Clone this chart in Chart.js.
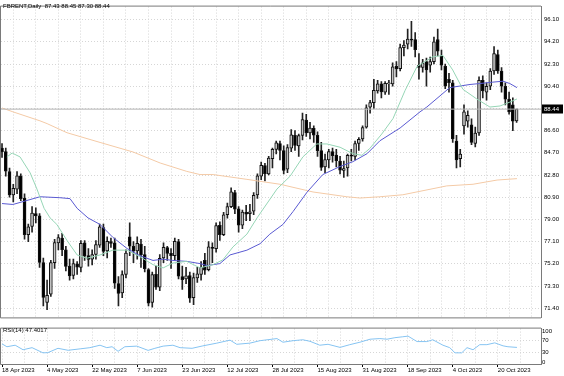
<!DOCTYPE html>
<html><head><meta charset="utf-8">
<script src="https://cdn.jsdelivr.net/npm/chart.js@4.4.0/dist/chart.umd.min.js"></script>
<style>
html,body{margin:0;padding:0;background:#fff;}
#wrap{position:relative;width:564px;height:376px;overflow:hidden;font-family:"Liberation Sans",Arial,sans-serif;}
#main{position:absolute;left:0;top:0;}
#rsi{position:absolute;left:0;top:324px;}
.lbl{position:absolute;font-size:6px;line-height:8px;color:#000;white-space:pre;}
</style></head><body>
<div id="wrap">
<canvas id="main" width="564" height="324"></canvas>
<canvas id="rsi" width="564" height="52"></canvas>
<div class="lbl" id="title" style="left:3px;top:1.6px"></div>
<div class="lbl" id="rsiTitle" style="left:3px;top:326.3px"></div>
</div>
<script>
const symbol = 'FBRENT,Daily';
const opens = [85.10,84.80,83.10,81.10,81.60,82.70,80.80,77.70,78.40,79.50,79.30,75.30,71.90,72.60,75.30,77.00,77.40,76.40,75.00,74.20,75.20,74.90,77.00,75.90,75.60,76.00,76.80,78.30,76.30,77.10,77.00,73.50,72.70,74.30,77.50,76.70,76.30,76.90,76.00,74.70,71.90,74.30,73.20,75.70,76.60,76.10,75.90,77.10,74.10,73.90,74.20,72.30,74.00,74.30,75.50,74.70,76.60,76.50,78.50,77.70,79.40,80.10,81.30,79.90,78.50,79.60,79.50,79.70,81.10,82.70,83.60,82.90,84.20,85.00,85.50,84.90,83.30,85.10,86.20,85.30,86.20,87.50,86.40,86.80,86.20,84.90,83.50,84.10,84.80,84.50,84.00,83.20,83.40,84.50,84.40,85.50,85.90,86.90,88.60,89.00,90.00,90.60,89.90,90.60,90.60,92.10,91.90,93.70,94.00,94.40,94.40,92.20,92.00,92.50,92.20,92.50,94.40,93.00,92.10,91.00,90.70,85.70,84.20,87.00,87.40,87.10,85.50,86.40,90.90,89.90,90.40,91.70,93.10,91.70,90.40,89.30,88.80,87.43];
const highs = [85.50,85.10,83.40,82.00,83.10,82.90,81.20,78.60,80.10,80.00,79.50,75.70,73.80,75.50,77.30,77.70,77.80,76.70,75.60,75.60,75.40,77.20,77.20,76.50,76.40,77.20,78.60,78.60,77.50,77.40,77.40,74.10,74.60,76.40,78.70,77.10,77.50,77.30,76.70,74.80,74.50,75.00,76.00,77.00,76.70,76.50,77.40,77.30,75.00,74.90,74.50,74.40,74.90,75.40,76.10,77.10,77.00,78.70,78.80,79.60,80.40,81.70,81.50,80.10,79.80,80.20,80.30,81.30,82.90,83.90,83.80,84.40,85.10,85.70,85.70,85.30,85.40,86.70,86.60,86.30,88.10,88.00,87.30,87.00,86.50,85.60,84.60,85.00,85.10,85.00,84.40,84.00,84.60,85.00,85.70,86.00,87.00,88.80,89.20,91.00,90.90,90.80,90.80,90.90,92.40,92.50,94.00,94.30,95.30,95.96,95.00,93.20,92.70,92.80,92.90,94.60,95.30,93.50,92.30,91.50,90.90,86.20,85.00,88.80,88.30,87.60,86.90,91.20,91.30,90.70,91.90,93.80,93.50,92.00,90.70,89.90,89.40,88.45];
const lows = [84.30,82.70,80.90,80.50,81.20,80.60,77.30,77.10,77.90,78.70,74.90,71.60,71.28,72.40,74.80,76.40,75.90,74.60,73.80,73.90,74.30,74.50,75.50,75.00,75.10,75.60,76.60,75.90,75.70,76.60,73.10,71.60,72.30,74.00,75.90,75.30,75.60,74.90,74.50,71.60,71.50,73.00,72.90,75.30,75.50,74.80,75.50,73.90,73.00,73.50,71.90,71.70,73.60,73.80,74.30,74.60,75.30,76.20,77.20,77.60,79.10,80.00,79.50,77.90,78.20,78.90,78.90,79.40,80.80,82.40,82.30,82.80,83.40,84.60,84.10,82.90,83.00,84.80,84.90,84.40,85.80,86.10,85.90,85.60,84.40,83.20,83.00,83.40,83.90,83.50,82.90,82.60,82.70,84.00,84.10,84.90,85.70,86.80,88.10,88.50,89.80,89.40,89.70,89.70,90.40,91.20,91.70,93.00,93.60,93.80,92.90,91.00,91.60,90.40,91.60,92.30,93.00,91.80,90.20,89.90,85.60,83.40,83.50,86.30,86.90,85.40,85.20,86.20,89.40,89.20,90.10,91.40,91.50,89.90,88.80,88.00,86.60,87.30];
const closes = [84.77,83.12,81.10,81.66,82.73,80.77,77.69,78.37,79.54,79.31,75.32,72.33,72.50,75.30,77.01,77.44,76.41,74.98,74.17,75.23,74.91,76.96,75.86,75.58,75.99,76.84,78.36,76.26,77.12,76.95,73.54,72.66,74.28,76.13,76.71,76.29,76.95,75.96,74.79,71.84,74.29,73.20,75.67,76.61,76.09,75.90,77.12,74.14,73.85,74.18,72.26,74.03,74.34,74.90,74.65,76.65,76.52,78.47,77.69,79.40,80.11,81.36,79.87,78.50,79.63,79.46,79.64,81.07,82.74,83.64,82.92,84.24,84.99,85.56,84.91,83.20,85.14,86.24,85.34,86.17,87.55,86.40,86.81,86.21,84.89,83.45,84.12,84.80,84.46,84.03,83.21,83.36,84.48,84.42,85.49,85.86,86.86,88.55,89.00,90.04,90.60,89.92,90.65,90.64,92.06,91.88,93.70,93.93,94.43,94.34,93.53,92.00,92.40,91.80,92.50,94.20,93.40,92.20,90.40,90.70,85.90,84.10,84.60,88.20,87.90,85.60,86.40,90.90,90.00,90.40,91.70,93.20,91.70,90.40,89.30,88.20,87.40,88.44];

// moving averages: [bar index, price]
const maFast = [[1.3,84.35],[2.7,84.68],[4.8,84.35],[7.5,82.98],[9.3,81.60],[11.2,79.95],[12.8,79.13],[14.6,78.57],[17.3,77.20],[20,75.96],[22.6,75.68],[26.1,75.96],[29.5,76.37],[33.3,76.37],[36.7,75.82],[40.2,75.13],[42.9,74.85],[45.5,75.27],[49.2,75.41],[52.7,74.85],[56.2,75.13],[58.8,75.54],[61.5,76.65],[65.2,77.74],[67.9,79.13],[73.2,81.60],[76.7,82.70],[80.1,84.35],[83.8,85.46],[86.5,85.46],[90,85.18],[93.4,84.63],[95.8,84.49],[97.9,85.07],[101.1,86.31],[104.1,87.63],[107.3,90.03],[110.5,92.09],[114.7,92.92],[117.4,93.03],[120,91.79],[122.7,90.14],[126.4,89.31],[129.9,88.62],[132.6,88.71],[135.2,89.04],[137.1,89.31]];
const maMid = [[0,80.36],[2.9,80.28],[10.1,80.94],[15.4,80.86],[18.1,80.78],[20,79.95],[22.9,79.13],[26.1,78.57],[29.5,77.47],[33.3,76.51],[36.7,75.90],[40.2,75.49],[42.9,75.60],[45.5,75.49],[49.2,75.41],[52.7,75.22],[54.6,75.05],[58,75.22],[60.7,75.96],[65.2,76.37],[68.7,76.92],[71.3,77.74],[74.8,78.57],[77.5,79.68],[81.2,81.33],[85.4,82.84],[90,83.53],[93.4,83.94],[97.2,84.63],[100.6,85.73],[106,86.83],[111.3,88.21],[113.1,88.62],[119.2,90.28],[124.6,90.55],[127.2,90.63],[130.7,90.75],[133.4,90.83],[135.2,90.63],[137.1,90.28]];
const maSlow = [[0,88.54],[2.9,88.21],[10.1,87.44],[12,87.20],[17.3,86.42],[26.1,85.59],[34.9,84.77],[42.1,83.83],[49.2,83.11],[52.7,82.84],[56.2,82.84],[65.2,82.43],[74,82.01],[82.8,81.35],[91.8,80.94],[95.3,80.83],[100.6,80.94],[106.7,81.11],[118.4,81.87],[125.4,82.01],[131.8,82.37],[137.1,82.49]];
const rsi14 = [[0,59],[1.3,49.6],[3.5,54.6],[5.6,39.8],[8,46.6],[10.9,29.7],[12.2,30.3],[14.9,44.5],[17.6,38],[20.8,42.7],[23.4,46.6],[26.1,54.6],[27.9,46.6],[29.3,49.6],[30.9,34.7],[32.7,49.6],[35.9,51.6],[38.9,37.7],[40.7,44.5],[42.9,51.6],[45.5,54.6],[47.4,46.6],[50.6,44.5],[53.5,52.5],[57.2,61.4],[60.7,71.2],[62.5,57.6],[66,61.4],[68.7,69.4],[73.2,76.3],[74.8,64.4],[77.5,69.4],[80.1,72.4],[82,67.4],[84.6,54.6],[86.8,57.6],[90,47.5],[92.6,56.4],[95.3,64.4],[98,74.2],[100.6,76.3],[102.5,74.2],[104.6,79.2],[106.7,82.2],[108.1,84.3],[110.5,66.5],[113.1,66.5],[114.7,72.4],[117.4,54.6],[119.2,46.6],[120.6,29.7],[122.4,29.7],[123.8,46.6],[125.4,39.8],[127.2,56.4],[129.1,56.4],[131.2,62.3],[133.4,52.5],[134.7,49.6],[137.1,47.4]];
const rsiLast = 47.4017;

const dateLabels = ['18 Apr 2023','4 May 2023','22 May 2023','7 Jun 2023','23 Jun 2023','12 Jul 2023','28 Jul 2023','15 Aug 2023','31 Aug 2023','18 Sep 2023','4 Oct 2023','20 Oct 2023'];
const priceTicks = [96.10,94.20,92.30,90.40,88.50,86.60,84.70,82.80,80.90,79.00,77.10,75.20,73.30,71.40];
const rsiTicks = [0,30,70,100];
const rsiLevels = [30,70];

// ---------------- layout / style ----------------
const FONT = '"Liberation Sans", Arial, sans-serif';
Chart.defaults.font.family = FONT;
Chart.defaults.font.size = 6;
Chart.defaults.color = '#000';
const GRID = '#d6d6d6';
const DASH = [1,2];
const X_MIN = -0.27, X_MAX = 143.5;
const LBL_EVERY = 12, GRID_EVERY = 6;
const gridIdx = [];
for (let v = 0; v <= X_MAX; v += GRID_EVERY) gridIdx.push(v);

const n = closes.length;
const last = n - 1;
document.getElementById('title').textContent =
  symbol + '  ' + [opens[last],highs[last],lows[last],closes[last]].map(v=>v.toFixed(2)).join(' ');
document.getElementById('rsiTitle').textContent = 'RSI(14) ' + rsiLast.toFixed(4);

const framePlugin = {
  id: 'frame',
  afterDraw(chart) {
    const {ctx, chartArea: a} = chart;
    ctx.save();
    ctx.strokeStyle = '#7a7a7a';
    ctx.lineWidth = 1;
    ctx.beginPath();
    ctx.moveTo(a.left - 0.5, a.top - 0.5); ctx.lineTo(a.left - 0.5, a.bottom + 0.5);
    ctx.moveTo(a.left - 0.5, a.top - 0.5); ctx.lineTo(a.right, a.top - 0.5);
    ctx.moveTo(a.left - 0.5, a.bottom + 0.5); ctx.lineTo(a.right, a.bottom + 0.5);
    ctx.stroke();
    ctx.restore();
  }
};
const priceTag = {
  id: 'priceTag',
  afterDraw(chart) {
    const {ctx, chartArea: a, scales: {y}} = chart;
    const py = Math.round(y.getPixelForValue(closes[last]));
    ctx.save();
    ctx.fillStyle = '#000';
    ctx.fillRect(a.right + 1, py - 4.5, 21, 9);
    ctx.fillStyle = '#fff';
    ctx.font = '6px ' + FONT;
    ctx.textBaseline = 'middle';
    ctx.textAlign = 'left';
    ctx.fillText(closes[last].toFixed(2), a.right + 3, py + 0.5);
    ctx.restore();
  }
};

const idx = closes.map((_, i) => i);
const bodyData = idx.map(i => ({x: i, y: [opens[i], closes[i]]}));
const wickData = idx.map(i => ({x: i, y: [lows[i], highs[i]]}));
const toXY = arr => arr.map(p => ({x: p[0], y: p[1]}));

const yMax = 97.215, yMin = 70.615;

new Chart(document.getElementById('main'), {
  type: 'bar',
  data: {
    datasets: [
      {type: 'line', data: [{x: X_MIN, y: closes[last]}, {x: X_MAX, y: closes[last]}], borderColor: '#b4b4b4', borderWidth: 1, pointRadius: 0, order: 0},
      {type: 'line', data: toXY(maFast), borderColor: '#96d6b6', borderWidth: 1, pointRadius: 0, tension: 0, order: 0},
      {type: 'line', data: toXY(maMid), borderColor: '#5a5ad2', borderWidth: 1, pointRadius: 0, tension: 0, order: 0},
      {type: 'line', data: toXY(maSlow), borderColor: '#f4caa6', borderWidth: 1, pointRadius: 0, tension: 0, order: 0},
      {type: 'bar', data: bodyData, grouped: false, barThickness: 3, minBarLength: 1,
       backgroundColor: idx.map(i => closes[i] >= opens[i] ? '#c4c4c4' : '#000'),
       borderColor: '#111', borderWidth: 1, borderSkipped: false, order: 1},
      {type: 'bar', data: wickData, grouped: false, barThickness: 1,
       backgroundColor: '#222', borderWidth: 0, order: 2}
    ]
  },
  options: {
    responsive: false, animation: false, devicePixelRatio: 1,
    layout: {padding: {left: 1, top: 1, right: 0, bottom: 1}},
    plugins: {legend: {display: false}, tooltip: {enabled: false}, title: {display: false}},
    scales: {
      x: {type: 'linear', min: X_MIN, max: X_MAX, offset: false,
          afterBuildTicks: s => { s.ticks = gridIdx.map(v => ({value: v})); },
          ticks: {display: false},
          grid: {color: GRID, lineWidth: 1, drawTicks: false},
          border: {display: false, dash: DASH},
          afterFit: s => { s.height = 0; }},
      y: {position: 'right', min: yMin, max: yMax,
          afterBuildTicks: s => { s.ticks = priceTicks.map(v => ({value: v})); },
          ticks: {padding: 3, callback: v => Number(v).toFixed(2), font: {size: 6, family: FONT}, color: '#000'},
          grid: {color: GRID, lineWidth: 1, drawTicks: false},
          border: {display: true, color: '#7a7a7a', width: 1, dash: DASH},
          afterFit: s => { s.width = 23; }}
    }
  },
  plugins: [framePlugin, priceTag]
});

new Chart(document.getElementById('rsi'), {
  type: 'line',
  data: {
    datasets: [
      {data: toXY(rsi14), borderColor: '#86c4f2', borderWidth: 1, pointRadius: 0, tension: 0}
    ]
  },
  options: {
    responsive: false, animation: false, devicePixelRatio: 1,
    layout: {padding: {left: 1, top: 1, right: 0, bottom: 0}},
    plugins: {legend: {display: false}, tooltip: {enabled: false}},
    scales: {
      x: {type: 'linear', min: X_MIN, max: X_MAX, offset: false,
          afterBuildTicks: s => { s.ticks = gridIdx.map(v => ({value: v})); },
          ticks: {autoSkip: false, maxRotation: 0, minRotation: 0, align: 'start', padding: 0,
                  font: {size: 6, family: FONT}, color: '#000',
                  callback: v => (v % LBL_EVERY === 0 && dateLabels[v / LBL_EVERY]) ? dateLabels[v / LBL_EVERY] : ''},
          grid: {color: GRID, lineWidth: 1, drawTicks: true, tickLength: 3,
                 tickColor: c => (c.tick && c.tick.value % LBL_EVERY === 0) ? '#000' : 'rgba(0,0,0,0)'},
          border: {display: false, dash: DASH},
          afterFit: s => { s.height = 12; }},
      y: {position: 'right', min: -6.8, max: 108.9,
          afterBuildTicks: s => { s.ticks = rsiTicks.map(v => ({value: v})); },
          ticks: {padding: 1, font: {size: 6, family: FONT}, color: '#000', callback: v => String(v)},
          grid: {color: c => (c.tick && rsiLevels.includes(c.tick.value)) ? GRID : 'rgba(0,0,0,0)', lineWidth: 1, drawTicks: false},
          border: {display: true, color: '#7a7a7a', width: 1, dash: DASH},
          afterFit: s => { s.width = 23; }}
    }
  },
  plugins: [framePlugin]
});
</script>
</body></html>
